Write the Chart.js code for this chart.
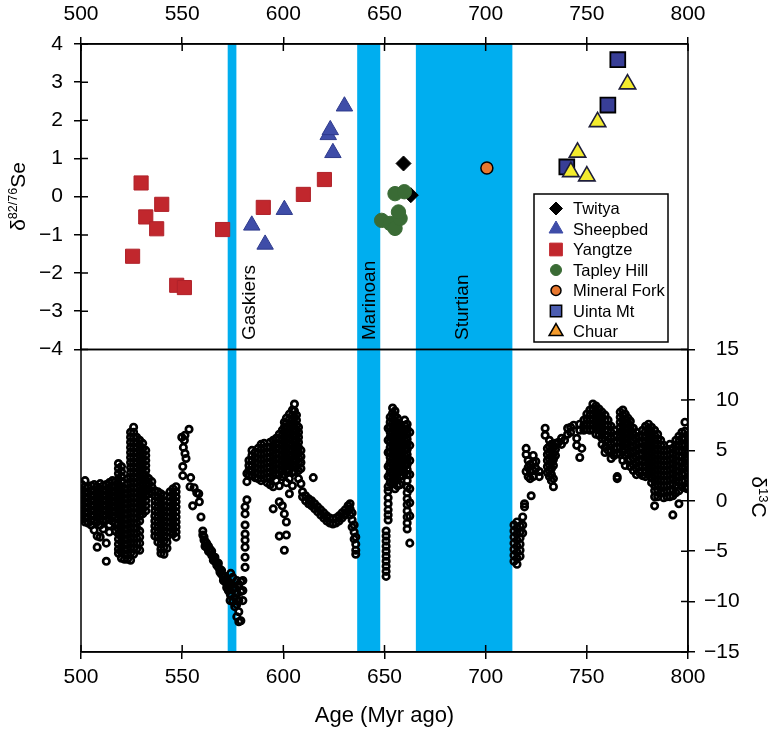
<!DOCTYPE html>
<html>
<head>
<meta charset="utf-8">
<script src="https://cdn.jsdelivr.net/npm/chart.js@4.4.1/dist/chart.umd.min.js"></script>
<style>
  html, body { margin: 0; padding: 0; background: #fff; }
  #wrap { position: relative; width: 773px; height: 729px; overflow: hidden; }
  #wrap canvas { position: absolute; left: 0; }
  #se { top: 0; }
  #c13 { top: 328px; }
</style>
</head>
<body>
<div id="wrap">
  <canvas id="se" width="773" height="373"></canvas>
  <canvas id="c13" width="773" height="401"></canvas>
</div>
<script>
const FONT = "'Liberation Sans', Arial, Helvetica, sans-serif";
const BAND = '#00AEEF';

// age axis (Myr ago)
const ageTicks = [500, 550, 600, 650, 700, 750, 800];
const seTicks = [-4, -3, -2, -1, 0, 1, 2, 3, 4];
const c13Ticks = [-15, -10, -5, 0, 5, 10, 15];

// glaciations
const glacName = ['Gaskiers', 'Marinoan', 'Sturtian'];
const glacStart = [572.5, 636.5, 665.5];
const glacEnd = [576.8, 647.9, 713.2];
const glacLabelAge = [583.6, 642.8, 688.6];

// δ82/76Se, [age, value]
const twitya = [[659.4, 0.87], [663.0, 0.04]];
const sheepbed = [[584.4, -0.75], [591.0, -1.25], [600.5, -0.34], [622.2, 1.62], [623.2, 1.75], [624.5, 1.15], [630.2, 2.37]];
const yangtze = [[525.5, -1.56], [529.7, 0.36], [532.0, -0.53], [537.4, -0.84], [539.9, -0.20], [547.3, -2.32],
  [551.1, -2.38], [570.0, -0.86], [590.1, -0.28], [609.9, 0.06], [620.3, 0.45]];
const tapleyHill = [[648.6, -0.62], [652.8, -0.70], [655.2, -0.83], [657.7, -0.57], [656.9, -0.40], [655.2, 0.08], [659.8, 0.13]];
const mineralFork = [[700.6, 0.75]];
const uintaMt = [[740.1, 0.78], [760.4, 2.40], [765.3, 3.59]];
const chuar = [[742.1, 0.65], [745.4, 1.16], [750.0, 0.54], [755.3, 1.96], [770.1, 2.95]];

// δ13C compilation, each row: [age, values at that age...]
const c13Cambrian = [
  [500.5, 1.6, 1.1, 0.6, 0.1, -0.4, -0.9, -1.4, -1.8],
  [502.0, 2.0, 1.4, 0.9, 0.4, -0.1, -0.6, -1.1, -1.6, -2.1],
  [503.5, 1.3, 0.8, 0.3, -0.2, -0.7, -1.2, -1.7, -2.2],
  [505.0, 1.5, 1.0, 0.5, 0.0, -0.5, -1.0, -1.5, -2.0, -2.4],
  [506.5, 1.6, 1.1, 0.6, 0.1, -0.4, -0.9, -1.4, -1.9, -2.9],
  [508.0, 1.4, 0.9, 0.4, -0.1, -0.6, -1.1, -1.6, -2.1, -3.5, -4.6],
  [509.5, 1.7, 1.2, 0.7, 0.2, -0.3, -0.8, -1.3, -1.8, -2.4, -3.6],
  [511.0, 1.5, 1.0, 0.5, 0.0, -0.5, -1.0, -1.5, -2.0, -2.8],
  [512.5, 1.6, 1.1, 0.6, 0.1, -0.4, -0.9, -1.4, -1.9, -4.2, -6.0],
  [514.0, 1.8, 1.3, 0.8, 0.3, -0.2, -0.7, -1.2, -1.7, -2.4, -3.1],
  [515.5, 2.0, 1.5, 1.0, 0.5, 0.0, -0.5, -1.0, -1.5, -2.0],
  [517.0, 1.9, 1.4, 0.9, 0.4, -0.1, -0.6, -1.1, -1.6, -2.2, -3.0],
  [518.5, 3.7, 3.2, 2.7, 2.2, 1.7, 1.2, 0.7, 0.2, -0.3, -0.8, -1.3, -1.8, -2.3, -2.8, -3.3, -3.8, -4.3, -4.8, -5.2],
  [520.0, 3.4, 2.9, 2.4, 1.9, 1.4, 0.9, 0.4, -0.1, -0.6, -1.1, -1.6, -2.1, -2.6, -3.1, -3.6, -4.1, -4.6, -5.1, -5.7],
  [521.5, 1.2, 0.7, 0.2, -0.3, -0.8, -1.3, -1.8, -2.3, -2.8, -3.3, -3.8, -4.3, -4.8, -5.3, -5.8],
  [523.0, 2.2, 1.7, 1.2, 0.7, 0.2, -0.3, -0.8, -1.3, -1.8, -2.3, -2.8, -3.3, -3.8, -4.3, -4.8, -5.3, -5.8],
  [524.5, 6.8, 6.3, 5.8, 5.3, 4.8, 4.3, 3.8, 3.3, 2.8, 2.3, 1.8, 1.3, 0.8, 0.3, -0.2, -0.7, -1.2, -1.7, -2.2, -2.7, -3.2, -3.7, -4.2, -4.7, -5.2, -5.9],
  [526.0, 7.3, 6.8, 6.3, 5.8, 5.3, 4.8, 4.3, 3.8, 3.3, 2.8, 2.3, 1.8, 1.3, 0.8, 0.3, -0.2, -0.7, -1.2, -1.7, -2.2, -2.7, -3.2, -3.7, -4.2, -4.7, -5.3],
  [527.5, 6.3, 5.8, 5.3, 4.8, 4.3, 3.8, 3.3, 2.8, 2.3, 1.8, 1.3, 0.8, 0.3, -0.2, -0.7, -1.2, -1.7, -2.2, -2.7, -3.2, -3.7, -4.2, -4.8],
  [529.0, 6.0, 5.5, 5.0, 4.5, 4.0, 3.5, 3.0, 2.5, 2.0, 1.5, 1.0, 0.5, 0.0, -0.5, -1.0, -1.5, -2.0, -3.0, -3.6, -4.2, -4.9],
  [530.5, 5.7, 5.2, 4.7, 4.2, 3.7, 3.2, 2.7, 2.2, 1.7, 1.2, 0.7, 0.2, -0.3, -0.8, -1.3],
  [532.0, 5.0, 4.5, 4.0, 3.5, 3.0, 2.5, 2.0, 1.5, 1.0, 0.5, 0.0, -0.5, -1.0],
  [533.5, 2.2, 1.7, 1.2, 0.7],
  [535.0, 1.9, 1.4, 0.9],
  [536.5, 1.0, 0.5, 0.0, -0.5, -1.0, -1.5, -2.0, -2.5, -3.0, -3.5],
  [538.0, 0.9, 0.4, -0.1, -0.6, -1.1, -1.6, -2.1, -2.6, -3.1, -3.6, -4.1],
  [539.5, 0.7, 0.2, -0.3, -0.8, -1.3, -1.8, -2.3, -2.8, -3.3, -3.8, -4.3, -4.8, -5.2],
  [541.0, 0.5, 0.0, -0.5, -1.0, -1.5, -2.0, -2.5, -3.0, -3.5, -4.0, -4.6, -5.3],
  [542.5, -0.6, -1.1, -1.6, -2.1, -2.6, -3.1, -3.6, -4.1, -4.7],
  [544.0, 0.9, 0.4, -0.1, -0.6, -1.1, -1.6, -2.1, -2.6, -3.1],
  [545.5, 1.2, 0.7, 0.2, -0.3, -0.8, -1.3, -1.8, -2.3, -2.8, -3.3],
  [547.0, 1.4, 0.9, 0.4, -0.1, -0.6, -1.1, -1.6, -2.1, -2.6, -3.1, -3.6]
];

const c13Shuram = [
  [549.8, 6.3], [550.3, 3.4, 2.5], [550.6, 5.3], [551.1, 6.0], [551.4, 6.5, 4.7], [551.9, 4.2],
  [553.4, 7.1], [553.9, 1.4], [554.2, 2.3], [555.2, -0.5], [555.9, 1.3], [557.2, 0.8],
  [558.2, 0.7], [558.5, -0.1], [559.3, -1.6],
  [560.2, -3.4, -3.0], [560.8, -3.9, -3.6], [561.3, -4.5, -4.0], [562.1, -4.6, -4.2], [563.0, -5.0, -4.5],
  [563.8, -5.1, -4.8], [564.6, -5.4, -5.0], [565.4, -5.6, -5.9], [566.2, -6.0, -5.6], [567.1, -6.1, -6.4],
  [567.9, -6.6, -6.2], [568.7, -6.9, -7.1], [569.5, -7.3, -6.9], [570.4, -7.6, -7.9], [571.2, -8.0, -7.5],
  [572.0, -8.2, -8.6], [572.8, -8.9, -8.4], [573.7, -9.2, -9.9],
  [572.5, -7.9], [574.0, -7.2, -8.4, -9.4], [575.0, -7.6, -8.8, -10.0], [576.0, -8.6, -9.6, -10.5],
  [577.0, -7.9, -9.2, -10.3, -11.5], [578.0, -8.3, -9.9, -11.0, -12.0], [579.0, -8.0, -9.0, -11.9],
  [580.0, -7.9, -8.9, -9.9],
  [581.1, -6.6, -5.6, -4.6, -3.9, -3.3, -2.4, -1.3, -0.6], [582.0, 0.1, 1.9, 2.7]
];

const c13Ediacaran = [
  [583.0, 4.0, 3.5, 3.0, 2.5],
  [584.5, 5.0, 4.5, 4.0, 3.5, 3.0, 2.5],
  [586.0, 4.8, 4.3, 3.8, 3.3, 2.8, 2.3],
  [587.5, 5.2, 4.7, 4.2, 3.7, 3.2, 2.7, 2.2],
  [589.0, 5.6, 5.1, 4.6, 4.1, 3.6, 3.1, 2.6, 2.0],
  [590.5, 5.7, 5.2, 4.7, 4.2, 3.7, 3.2, 2.7, 2.2],
  [592.0, 5.3, 4.8, 4.3, 3.8, 3.3, 2.8, 2.3, 1.8],
  [593.5, 5.8, 5.3, 4.8, 4.3, 3.8, 3.3, 2.8, 2.3, 1.6],
  [595.0, 6.0, 5.5, 5.0, 4.5, 4.0, 3.5, 3.0, 2.5, 1.4, -0.8],
  [596.5, 6.2, 5.7, 5.2, 4.7, 4.2, 3.7, 3.2, 2.7, 2.0],
  [598.0, 6.6, 6.1, 5.6, 5.1, 4.6, 4.1, 3.6, 3.1, 2.6, 1.5, -0.1, -3.5],
  [599.5, 7.0, 6.5, 6.0, 5.5, 5.0, 4.5, 4.0, 3.5, 3.0, 2.4, -0.5],
  [600.5, 7.8, 7.3, 6.8, 6.3, 5.8, 5.3, 4.8, 4.3, 3.8, 3.3, 2.6, -1.3, -4.9],
  [601.5, 8.2, 7.7, 7.2, 6.7, 6.2, 5.7, 5.2, 4.7, 4.2, 3.7, 3.0, 1.8, -2.1, -3.4],
  [603.0, 8.6, 8.1, 7.6, 7.1, 6.6, 6.1, 5.6, 5.1, 4.6, 4.1, 3.6, 3.0, 2.2, 0.7],
  [604.5, 9.0, 8.5, 8.0, 7.5, 7.0, 6.5, 6.0, 5.5, 5.0, 4.5, 4.0, 3.5, 2.8, 1.5],
  [605.5, 9.6, 8.9, 8.3, 7.7, 7.1, 6.5, 5.9, 5.3, 4.7, 4.1, 3.5, 2.9],
  [606.5, 8.5, 8.0, 7.5, 7.0, 6.5, 6.0, 5.5, 5.0, 4.5, 4.0, 3.4],
  [607.5, 7.3, 6.8, 6.3, 5.8, 5.3, 4.8, 4.3, 3.8, 3.0, 2.2],
  [608.7, 5.0, 4.4, 3.8, 3.2, 1.7],
  [614.8, 2.3],
  [609.5, 0.9, 0.4], [611.0, 0.5, 0.0], [612.5, 0.2, -0.3], [614.0, 0.0, -0.5], [615.5, -0.3, -0.8],
  [617.0, -0.6, -1.1], [618.5, -0.9, -1.4], [620.0, -1.2, -1.7], [621.5, -1.5, -2.0], [623.0, -1.7, -2.2],
  [624.5, -1.8, -2.3], [626.0, -1.7, -2.2], [627.5, -1.5, -2.0], [629.0, -1.2, -1.7], [630.5, -0.9, -1.4],
  [632.0, -0.5, -1.0], [633.0, -0.3, -0.8, -1.4], [634.0, -1.2, -1.9, -2.6], [635.0, -2.4, -3.1, -3.8],
  [635.8, -3.6, -4.3, -4.9, -5.3]
];

const c13Cryogenian = [
  [650.8, -3.0, -3.5, -4.0, -4.5, -5.0, -5.5, -6.0, -6.5, -7.0, -7.5],
  [651.8, 7.2, 6.0, 4.8, 3.4, 2.4, 1.4, 1.0, 0.3, -0.3, -0.9, -1.4, -1.9],
  [652.8, 8.3, 7.8, 7.3, 6.8, 6.3, 5.8, 5.3, 4.8, 4.3, 3.8, 3.3, 2.8, 2.3, 1.8],
  [654.0, 9.2, 8.7, 8.2, 7.7, 7.2, 6.7, 6.2, 5.7, 5.2, 4.7, 4.2, 3.7, 3.2, 2.7, 2.2, 1.7],
  [655.2, 8.9, 8.4, 7.9, 7.4, 6.9, 6.4, 5.9, 5.4, 4.9, 4.4, 3.9, 3.4, 2.9, 2.4, 1.9, 1.2],
  [656.4, 8.2, 7.7, 7.2, 6.7, 6.2, 5.7, 5.2, 4.7, 4.2, 3.7, 3.2, 2.7, 2.2, 1.5],
  [657.6, 7.4, 6.9, 6.4, 5.9, 5.4, 4.9, 4.4, 3.9, 3.4, 2.9, 2.4, 1.6],
  [658.8, 7.0, 6.5, 6.0, 5.5, 5.0, 4.5, 4.0, 3.5, 3.0, 2.5],
  [660.0, 8.0, 7.5, 7.0, 6.5, 6.0, 5.5, 5.0, 4.5, 4.0, 3.5, 2.8],
  [661.2, 7.6, 7.1, 6.6, 6.1, 5.6, 5.1, 4.6, 4.1, 3.6, 3.1, 2.6, 2.0, 1.4, 0.8, 0.2, -0.4, -1.0, -1.6, -2.2, -2.8],
  [662.5, 6.8, 5.5, 4.0, 2.6, 1.2, -0.2, -1.5, -4.2]
];

const c13Tonian = [
  [714.0, -2.4, -3.0, -3.6, -4.2, -4.8, -5.4, -6.0],
  [715.5, -2.1, -2.7, -3.3, -3.9, -4.5, -5.1, -5.7, -6.3],
  [717.0, -2.5, -3.1, -3.7, -4.3, -4.9, -5.5],
  [718.3, -1.6, -2.4, -3.2],
  [719.2, -0.3, -0.6],
  [722.5, 0.5],
  [720.0, 5.2, 4.6, 2.9],
  [721.0, 4.0, 3.3, 2.4],
  [722.0, 3.6, 3.0, 2.2],
  [723.5, 4.5, 3.8, 3.0, 2.4],
  [724.8, 3.9, 3.2],
  [726.5, 2.4, 2.9],
  [729.4, 7.2, 6.5],
  [730.5, 5.2, 4.6, 4.0, 3.4, 2.8],
  [731.5, 6.0, 5.4, 4.8, 4.2, 3.6, 3.0, 2.4],
  [732.5, 5.6, 5.0, 4.4, 3.8, 3.2, 2.6, 2.0],
  [733.5, 5.3, 4.7, 4.1, 3.5, 2.2, 1.4],
  [734.5, 5.7, 5.1, 4.5],
  [736.0, 5.8], [737.5, 6.2, 5.6], [739.0, 6.0], [740.5, 7.2, 6.6], [742.0, 7.3, 6.8],
  [743.5, 7.5], [745.0, 6.2, 5.5], [746.5, 7.6, 7.0, 4.3], [747.5, 5.2],
  [748.5, 8.0, 7.5, 7.0],
  [750.0, 8.6, 8.1, 7.6, 7.1],
  [751.5, 9.0, 8.5, 8.0, 7.5, 7.0],
  [753.0, 9.6, 9.1, 8.6, 8.1, 7.6, 7.1],
  [754.5, 9.4, 8.9, 8.4, 7.9, 7.4, 6.6],
  [756.0, 9.1, 8.6, 8.1, 7.6, 7.1, 6.5],
  [757.5, 8.8, 8.3, 7.8, 7.3, 6.8, 6.2, 5.6],
  [759.0, 8.5, 8.0, 7.5, 7.0, 6.5, 6.0, 5.3, 4.8],
  [760.5, 8.0, 7.5, 7.0, 6.4, 5.8, 5.0],
  [762.0, 7.4, 6.8, 6.2, 5.6, 4.9, 4.2],
  [763.5, 7.0, 6.4, 5.8, 5.2, 4.5],
  [765.0, 6.5, 5.9, 5.3, 4.7, 2.4, 2.2],
  [766.5, 8.8, 8.3, 7.8, 7.3, 6.8, 6.3, 5.8, 5.3, 4.6],
  [767.8, 9.0, 8.5, 8.0, 7.5, 7.0, 6.5, 6.0, 5.5, 5.0, 4.0],
  [769.0, 8.6, 8.1, 7.6, 7.1, 6.6, 6.1, 5.6, 5.1, 4.5, 3.5],
  [770.3, 8.2, 7.7, 7.2, 6.7, 6.2, 5.7, 5.2, 4.7, 4.0],
  [771.5, 7.9, 7.4, 6.9, 6.4, 5.9, 5.4, 4.8, 4.1, 3.4],
  [773.0, 7.2, 6.6, 6.0, 5.4, 4.8, 4.2, 3.6, 3.0],
  [774.5, 6.8, 6.2, 5.6, 5.0, 4.4, 3.8, 3.2, 2.6],
  [776.0, 6.4, 5.8, 5.2, 4.6, 4.0, 3.4, 2.8],
  [777.5, 7.0, 6.4, 5.8, 5.2, 4.6, 4.0, 3.4, 2.5],
  [779.0, 7.4, 6.9, 6.4, 5.9, 5.4, 4.9, 4.4, 3.9, 3.4, 2.9, 2.4],
  [780.5, 7.6, 7.1, 6.6, 6.1, 5.6, 5.1, 4.6, 4.1, 3.6, 3.1, 2.6],
  [782.0, 7.3, 6.8, 6.3, 5.8, 5.3, 4.8, 4.3, 3.8, 3.3, 2.8, 2.3, 1.8],
  [783.5, 7.0, 6.5, 6.0, 5.5, 5.0, 4.5, 4.0, 3.5, 3.0, 2.5, 2.0, 1.5, 1.0, 0.4, -0.5],
  [785.0, 6.6, 6.1, 5.6, 5.1, 4.6, 4.1, 3.6, 3.1, 2.6, 2.1, 1.6, 1.0, 0.4],
  [786.5, 6.0, 5.5, 5.0, 4.5, 4.0, 3.5, 3.0, 2.5, 2.0, 1.5, 0.8],
  [788.0, 5.5, 5.0, 4.5, 4.0, 3.5, 3.0, 2.5, 2.0, 1.5, 0.9, 0.3],
  [789.5, 5.0, 4.5, 4.0, 3.5, 3.0, 2.5, 2.0, 1.5, 1.0, 0.4],
  [791.0, 5.6, 5.1, 4.6, 4.1, 3.6, 3.1, 2.6, 2.1, 1.6, 1.0, 0.4],
  [792.5, 5.2, 4.7, 4.2, 3.7, 3.2, 2.7, 2.2, 1.7, 1.1, 0.5, -1.4],
  [794.0, 6.0, 5.5, 5.0, 4.5, 4.0, 3.5, 3.0, 2.5, 2.0, 1.5, 0.8],
  [795.5, 6.4, 5.9, 5.4, 4.9, 4.4, 3.9, 3.4, 2.9, 2.4, 1.8, 1.0, -0.3],
  [797.0, 6.8, 6.2, 5.6, 5.0, 4.4, 3.8, 3.2, 2.6, 2.0, 1.4],
  [798.5, 7.8, 6.9, 6.2, 5.5, 4.8, 4.1, 3.4, 2.7, 2.0, 1.3],
  [799.6, 6.5, 5.8, 5.1, 4.4, 3.7, 3.0, 2.3, 1.4, 1.2]
];

const toXY = pairs => pairs.map(p => ({ x: p[0], y: p[1] }));
const fromRows = rows => rows.flatMap(r => r.slice(1).map(v => ({ x: r[0], y: v })));
const minus = v => (v < 0 ? '\u2212' + (-v) : String(v));

/* marker path used for the legend */
function markerPath(ctx, style, x, y, r) {
  ctx.beginPath();
  if (style === 'circle') {
    ctx.arc(x, y, r, 0, Math.PI * 2);
  } else if (style === 'triangle') {
    ctx.moveTo(x, y - r);
    ctx.lineTo(x + r * 0.866, y + r / 2);
    ctx.lineTo(x - r * 0.866, y + r / 2);
    ctx.closePath();
  } else if (style === 'rect') {
    const h = r * Math.SQRT1_2;
    ctx.rect(x - h, y - h, 2 * h, 2 * h);
  } else {
    ctx.moveTo(x, y - r); ctx.lineTo(x + r, y); ctx.lineTo(x, y + r); ctx.lineTo(x - r, y);
    ctx.closePath();
  }
}

/* text with a superscript part, rotated around its centre */
function richText(ctx, parts, cx, cy, angle) {
  ctx.save();
  ctx.translate(cx, cy);
  ctx.rotate(angle);
  ctx.fillStyle = '#000';
  ctx.textAlign = 'left';
  ctx.textBaseline = 'alphabetic';
  const w = parts.map(p => { ctx.font = p.size + 'px ' + FONT; return ctx.measureText(p.t).width; });
  let x = -w.reduce((a, b) => a + b, 0) / 2;
  parts.forEach((p, i) => {
    ctx.font = p.size + 'px ' + FONT;
    ctx.fillText(p.t, x, 7.5 - (p.rise || 0));
    x += w[i];
  });
  ctx.restore();
}

const bandPlugin = {
  id: 'bands',
  beforeDraw(chart) {
    const { ctx, chartArea: a } = chart;
    const x = chart.scales.x;
    ctx.save();
    ctx.fillStyle = BAND;
    glacStart.forEach((s, i) => {
      const x0 = x.getPixelForValue(s), x1 = x.getPixelForValue(glacEnd[i]);
      ctx.fillRect(x0, a.top, x1 - x0, a.bottom - a.top);
    });
    ctx.restore();
  }
};

/* box round the plot area plus the inner half of each tick */
function drawFrame(chart, scaleIds) {
  const { ctx, chartArea: a } = chart;
  ctx.save();
  ctx.strokeStyle = '#000';
  ctx.lineWidth = 1.5;
  ctx.strokeRect(a.left, a.top, a.right - a.left, a.bottom - a.top);
  ctx.beginPath();
  scaleIds.forEach(id => {
    const s = chart.scales[id];
    s.ticks.forEach(t => {
      const p = s.getPixelForValue(t.value);
      if (s.position === 'top') { ctx.moveTo(p, a.top); ctx.lineTo(p, a.top + 7); }
      else if (s.position === 'bottom') { ctx.moveTo(p, a.bottom); ctx.lineTo(p, a.bottom - 7); }
      else if (s.position === 'left') { ctx.moveTo(a.left, p); ctx.lineTo(a.left + 7, p); }
      else { ctx.moveTo(a.right, p); ctx.lineTo(a.right - 7, p); }
    });
  });
  ctx.stroke();
  ctx.restore();
}

const seSets = [
  { label: 'Twitya', data: toXY(twitya), pointStyle: 'rectRot', pointRadius: 7.5,
    pointBackgroundColor: '#000', pointBorderColor: '#000', pointBorderWidth: 1, order: 5,
    legendFill: '#000', legendStroke: '#000', legendLine: 1, legendR: 6.5 },
  { label: 'Sheepbed', data: toXY(sheepbed), pointStyle: 'triangle', pointRadius: 9.5,
    pointBackgroundColor: '#3F4DA8', pointBorderColor: '#2E3A8C', pointBorderWidth: 1, order: 3,
    legendFill: '#3F4DA8', legendStroke: '#3F4DA8', legendLine: 1, legendR: 8 },
  { label: 'Yangtze', data: toXY(yangtze), pointStyle: 'rect', pointRadius: 10,
    pointBackgroundColor: '#C1272D', pointBorderColor: '#B0222A', pointBorderWidth: 1, order: 4,
    legendFill: '#C1272D', legendStroke: '#C1272D', legendLine: 1, legendR: 9 },
  { label: 'Tapley Hill', data: toXY(tapleyHill), pointStyle: 'circle', pointRadius: 7.2,
    pointBackgroundColor: '#3A6B35', pointBorderColor: '#3A6B35', pointBorderWidth: 1, order: 2,
    legendFill: '#3A6B35', legendStroke: '#3A6B35', legendLine: 1, legendR: 5.5 },
  { label: 'Mineral Fork', data: toXY(mineralFork), pointStyle: 'circle', pointRadius: 6,
    pointBackgroundColor: '#E8772E', pointBorderColor: '#000', pointBorderWidth: 1.5, order: 2,
    legendFill: '#E8772E', legendStroke: '#000', legendLine: 1.5, legendR: 5 },
  { label: 'Uinta Mt', data: toXY(uintaMt), pointStyle: 'rect', pointRadius: 10.5,
    pointBackgroundColor: '#383E96', pointBorderColor: '#000', pointBorderWidth: 1.8, order: 1,
    legendFill: '#4C5DB0', legendStroke: '#000', legendLine: 1.5, legendR: 8 },
  { label: 'Chuar', data: toXY(chuar), pointStyle: 'triangle', pointRadius: 9.5,
    pointBackgroundColor: '#F4EC2E', pointBorderColor: '#1E1E3A', pointBorderWidth: 1.6, order: 0,
    legendFill: '#F39A2B', legendStroke: '#000', legendLine: 1.5, legendR: 8 }
];

const seDecor = {
  id: 'seDecor',
  afterDraw(chart) {
    const { ctx } = chart;
    const x = chart.scales.x;
    drawFrame(chart, ['x', 'y']);

    // glaciation names
    ctx.save();
    ctx.fillStyle = '#000';
    ctx.font = '19px ' + FONT;
    ctx.textAlign = 'left';
    ctx.textBaseline = 'middle';
    glacName.forEach((n, i) => {
      ctx.save();
      ctx.translate(x.getPixelForValue(glacLabelAge[i]), 340);
      ctx.rotate(-Math.PI / 2);
      ctx.fillText(n, 0, 0);
      ctx.restore();
    });
    ctx.restore();

    // legend
    ctx.save();
    ctx.fillStyle = '#fff';
    ctx.fillRect(534, 194, 134, 148);
    ctx.strokeStyle = '#000';
    ctx.lineWidth = 1.5;
    ctx.strokeRect(534, 194, 134, 148);
    ctx.font = '16.5px ' + FONT;
    ctx.textBaseline = 'middle';
    ctx.textAlign = 'left';
    seSets.forEach((d, i) => {
      const y = 208.5 + i * 20.5;
      markerPath(ctx, d.pointStyle, 556, y, d.legendR);
      ctx.fillStyle = d.legendFill;
      ctx.fill();
      ctx.lineWidth = d.legendLine;
      ctx.strokeStyle = d.legendStroke;
      ctx.stroke();
      ctx.fillStyle = '#000';
      ctx.fillText(d.label, 573, y + 1);
    });
    ctx.restore();

    // y title
    richText(ctx, [{ t: '\u03B4', size: 21 }, { t: '82/76', size: 12.5, rise: 7.5 }, { t: 'Se', size: 21 }],
      17, 196.5, -Math.PI / 2);
  }
};

const c13Decor = {
  id: 'c13Decor',
  afterDraw(chart) {
    drawFrame(chart, ['x', 'y']);
    richText(chart.ctx, [{ t: '\u03B4', size: 21 }, { t: '13', size: 13, rise: 7.5 }, { t: 'C', size: 21 }],
      759, 497 - 328, Math.PI / 2);
  }
};

const tickFont = { family: FONT, size: 21 };
const axisGrid = { drawOnChartArea: false, tickLength: 7, color: '#000', lineWidth: 1.5 };
const axisBorder = { color: '#000', width: 1.5 };
const common = {
  responsive: false,
  animation: false,
  events: [],
  plugins: { legend: { display: false }, tooltip: { enabled: false } }
};

new Chart(document.getElementById('se'), {
  type: 'scatter',
  data: { datasets: seSets },
  options: Object.assign({}, common, {
    layout: { padding: { top: 0, right: 85, bottom: 0, left: 0 } },
    scales: {
      x: {
        type: 'linear', position: 'top', min: 500, max: 800,
        afterBuildTicks: s => { s.ticks = ageTicks.map(v => ({ value: v })); },
        ticks: { font: tickFont, color: '#000', padding: 10, maxRotation: 0 },
        grid: axisGrid, border: axisBorder,
        afterFit: s => { s.height = 44; }
      },
      y: {
        type: 'linear', position: 'left', min: -4, max: 4,
        afterBuildTicks: s => { s.ticks = seTicks.map(v => ({ value: v })); },
        ticks: { font: tickFont, color: '#000', padding: 11, callback: minus },
        grid: axisGrid, border: axisBorder,
        afterFit: s => { s.width = 81; }
      }
    }
  }),
  plugins: [bandPlugin, seDecor]
});

new Chart(document.getElementById('c13'), {
  type: 'scatter',
  data: {
    datasets: [{
      label: '\u03B413C',
      data: [c13Cambrian, c13Shuram, c13Ediacaran, c13Cryogenian, c13Tonian].flatMap(fromRows),
      pointStyle: 'circle',
      pointRadius: 3.2,
      pointBorderWidth: 2.7,
      pointBorderColor: '#000',
      pointBackgroundColor: 'rgba(0,0,0,0)'
    }]
  },
  options: Object.assign({}, common, {
    layout: { padding: { top: 0, right: 0, bottom: 0, left: 81 } },
    scales: {
      x: {
        type: 'linear', position: 'bottom', min: 500, max: 800,
        afterBuildTicks: s => { s.ticks = ageTicks.map(v => ({ value: v })); },
        ticks: { font: tickFont, color: '#000', padding: 6, maxRotation: 0 },
        grid: axisGrid, border: axisBorder,
        title: { display: true, text: 'Age (Myr ago)', color: '#000', font: { family: FONT, size: 22 }, padding: 0 },
        afterFit: s => { s.height = 77; }
      },
      y: {
        type: 'linear', position: 'right', min: -15, max: 15,
        afterBuildTicks: s => { s.ticks = c13Ticks.map(v => ({ value: v })); },
        ticks: { font: tickFont, color: '#000', padding: 9, callback: v => (v < 0 ? '\u2212' + (-v) : '\u2007' + v) },
        grid: axisGrid, border: axisBorder,
        afterFit: s => { s.width = 85; }
      }
    }
  }),
  plugins: [bandPlugin, c13Decor]
});
</script>
</body>
</html>
